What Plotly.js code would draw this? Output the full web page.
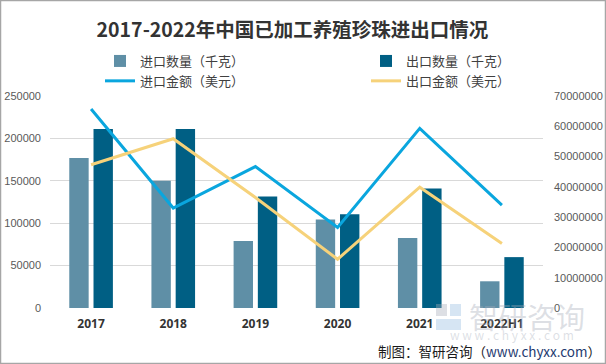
<!DOCTYPE html>
<html><head><meta charset="utf-8">
<script src="https://cdn.plot.ly/plotly-3.0.1.min.js"></script>
<style>html,body{margin:0;padding:0;background:#fff}#c{width:606px;height:364px}</style>
</head><body><div id="c"></div>
<script>
const categories = ['2017','2018','2019','2020','2021','2022H1'];
const importQty = [177000, 150000, 79000, 104500, 82500, 31500];
const exportQty = [211000, 211000, 131500, 110500, 141000, 60000];
const importAmt = [65700000, 33000000, 46700000, 26600000, 59300000, 34000000];
const exportAmt = [47300000, 55900000, 36500000, 16100000, 39900000, 21300000];
const seriesNames = ['进口数量（千克）','出口数量（千克）','进口金额（美元）','出口金额（美元）'];
const leftTicks = [0,50000,100000,150000,200000,250000];
const rightTicks = [0,10000000,20000000,30000000,40000000,50000000,60000000,70000000];

const font = "'Microsoft YaHei','Noto Sans CJK SC','DejaVu Sans',sans-serif";
const PW = 493, PH = 212, ML = 50, MT = 96;
const px = v => (v - ML) / PW;
const py = v => (MT + PH - v) / PH;
const traces = [
  {type:'bar', x:categories, y:importQty, name:seriesNames[0], marker:{color:'#5f8fa6'}, yaxis:'y', legend:'legend'},
  {type:'bar', x:categories, y:exportQty, name:seriesNames[1], marker:{color:'#005f84'}, yaxis:'y', legend:'legend2'},
  {type:'scatter', mode:'lines', x:categories, y:importAmt, name:seriesNames[2], line:{color:'#0aa6de', width:3}, yaxis:'y2', legend:'legend'},
  {type:'scatter', mode:'lines', x:categories, y:exportAmt, name:seriesNames[3], line:{color:'#f6d27a', width:3}, yaxis:'y2', legend:'legend2'}
];
const legendBase = {orientation:'v', xanchor:'left', yanchor:'top', font:{size:13, color:'#404040', family:font},
  tracegroupgap:0, itemwidth:30, traceorder:'normal', bgcolor:'rgba(0,0,0,0)'};
const wm = 'rgba(165,172,185,0.38)';
const layout = {
  width:606, height:364,
  margin:{l:ML, r:606-ML-PW, t:MT, b:364-MT-PH},
  paper_bgcolor:'#fff', plot_bgcolor:'#fff',
  font:{family:font, color:'#595959', size:12},
  title:{text:'<b>2017-2022年中国已加工养殖珍珠进出口情况</b>', x:292.5/606, xanchor:'center', y:1-30/364, yanchor:'middle', font:{size:19.5, color:'#333', family:font}},
  barmode:'group', bargap:0.41, bargroupgap:0.2,
  showlegend:true,
  legend:Object.assign({}, legendBase, {x:px(100), y:py(46)}),
  legend2:Object.assign({}, legendBase, {x:px(366), y:py(46)}),
  xaxis:{type:'category', showgrid:false, showline:false, zeroline:false, ticks:'', tickfont:{size:12, color:'#333', family:"'Noto Sans','DejaVu Sans',sans-serif", weight:'bold'}, ticklabelstandoff:7},
  yaxis:{range:[0,250000], tickvals:leftTicks, ticktext:leftTicks.map(String), showgrid:true, gridcolor:'#d9d9d9', gridwidth:1, zeroline:false, showline:false, ticks:'', tickfont:{size:11, color:'#595959', family:"'Liberation Sans','DejaVu Sans',sans-serif"}, ticklabelstandoff:8},
  yaxis2:{range:[0,70000000], tickvals:rightTicks, ticktext:rightTicks.map(String), overlaying:'y', side:'right', showgrid:false, zeroline:false, showline:false, ticks:'', tickfont:{size:11, color:'#595959', family:"'Liberation Sans','DejaVu Sans',sans-serif"}, ticklabelstandoff:10},
  shapes:[
    {type:'rect', xref:'paper', yref:'paper', x0:px(0.5), x1:px(605.5), y0:py(363.5), y1:py(0.5), line:{color:'#a6a6a6', width:1.5}, fillcolor:'rgba(0,0,0,0)'},
    {type:'rect', xref:'paper', yref:'paper', x0:px(436), x1:px(447), y0:py(316), y1:py(304), line:{width:0}, fillcolor:wm, layer:'above'},
    {type:'rect', xref:'paper', yref:'paper', x0:px(450), x1:px(461), y0:py(316), y1:py(304), line:{width:0}, fillcolor:'rgba(120,170,215,0.3)', layer:'above'},
    {type:'rect', xref:'paper', yref:'paper', x0:px(436), x1:px(461), y0:py(330), y1:py(319), line:{width:0}, fillcolor:'rgba(120,170,215,0.3)', layer:'above'}
  ],
  annotations:[
    {text:'智研咨询', xref:'paper', yref:'paper', x:px(527), y:py(316), xanchor:'center', yanchor:'middle', showarrow:false, font:{size:29, color:wm, family:font}},
    {text:'w w w . c h y x x . c o m', xref:'paper', yref:'paper', x:px(512), y:py(334), xanchor:'center', yanchor:'middle', showarrow:false, font:{size:12, color:wm, family:font}},
    {text:'制图：智研咨询（<span style="color:#1f3a70">www.chyxx.com</span>）', xref:'paper', yref:'paper', x:px(603), y:py(351), xanchor:'right', yanchor:'middle', showarrow:false, font:{size:13.5, color:'#1a1a1a', family:font}}
  ]
};
Plotly.newPlot('c', traces, layout, {displayModeBar:false, staticPlot:true});
</script></body></html>
